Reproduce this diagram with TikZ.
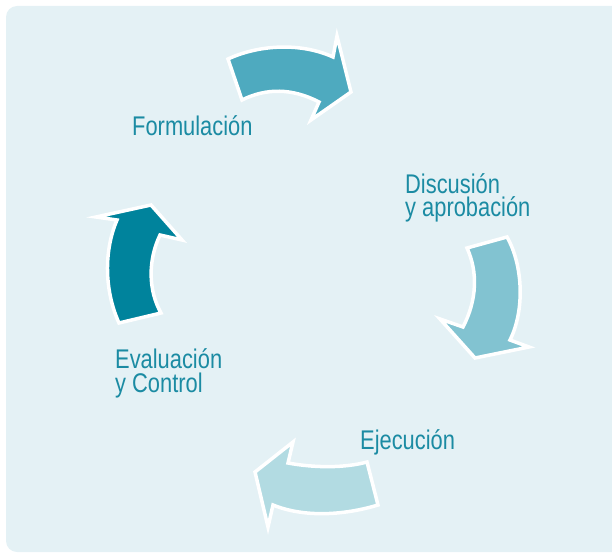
\documentclass[tikz,border=0pt]{standalone}
\usepackage{fontspec}
\setmainfont{Liberation Sans}[FakeStretch=0.81]
\definecolor{panel}{HTML}{E4F1F5}
\definecolor{labeltext}{HTML}{1B8BA3}
\definecolor{stepA}{HTML}{4EAABF}
\definecolor{stepB}{HTML}{82C3D1}
\definecolor{stepC}{HTML}{B2DBE2}
\definecolor{stepD}{HTML}{00839C}
\tikzset{
  cyclearrow/.style={draw=white, line width=3.5pt, line join=miter},
  phase/.style={anchor=base west, inner sep=0pt, align=left, text=labeltext,
    font=\fontsize{27}{23.5}\selectfont},
}
\begin{document}
\begin{tikzpicture}[x=1pt, y=-1pt]
  \useasboundingbox (0,0) rectangle (612,553);
  % light panel behind the cycle
  \fill[panel, rounded corners=11pt] (6,6) rectangle (660,552);

  % Formulación -> Discusión
  \fill[stepA, cyclearrow] (228,59) .. controls (258,45) and (300,42) .. (333,57)
    -- (337,36) -- (351,92) -- (311,120) -- (319,102)
    .. controls (292,88) and (266,88) .. (242,100) -- cycle;

  % Discusión -> Ejecución
  \fill[stepB, cyclearrow] (507,237) .. controls (523,265) and (525,310) .. (510,340)
    -- (529,347) -- (475,358) -- (440,319) -- (463,327)
    .. controls (477,300) and (478,272) .. (467,248) -- cycle;

  % Ejecución -> Evaluación
  \fill[stepC, cyclearrow] (378,505) .. controls (345,515) and (305,518) .. (273,505)
    -- (268,527) -- (255,472) -- (293,442) -- (288,463)
    .. controls (315,468) and (345,468) .. (367,462) -- cycle;

  % Evaluación -> Formulación
  \fill[stepD, cyclearrow] (119,323) .. controls (104,290) and (104,250) .. (117,220)
    -- (96,217) -- (151,205) -- (182,240) -- (160,235)
    .. controls (148,260) and (148,290) .. (161,313) -- cycle;

  % stage labels (base anchor sits on the last line)
  \node[phase] (formulacion) at (132,136) {Formulación};
  \node[phase] (discusion) at (405,217) {Discusión\\y aprobación};
  \node[phase] (ejecucion) at (360,449) {Ejecución};
  \node[phase] (evaluacion) at (115,392) {Evaluación\\y Control};
\end{tikzpicture}
\end{document}
